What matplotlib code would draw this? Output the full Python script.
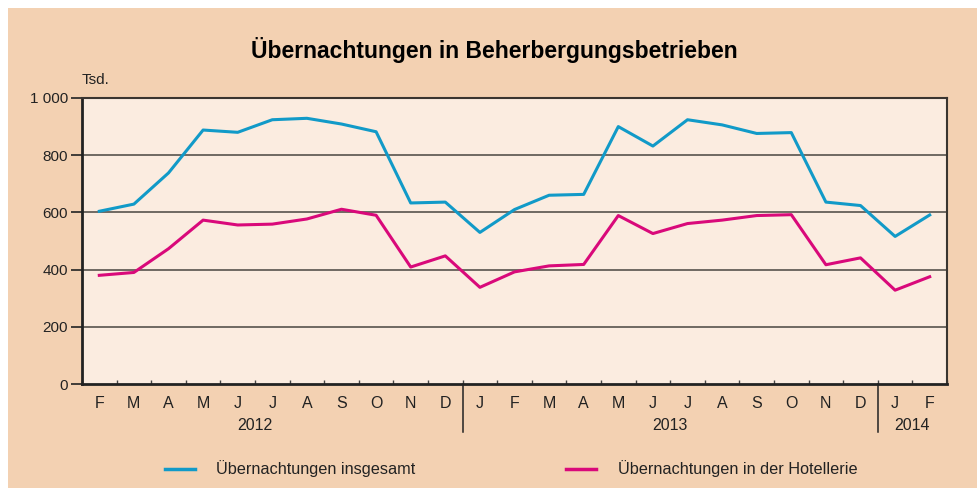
import matplotlib
matplotlib.use("Agg")
import matplotlib.pyplot as plt
from matplotlib.patches import Rectangle
from matplotlib.lines import Line2D

months = ["F", "M", "A", "M", "J", "J", "A", "S", "O", "N", "D",
          "J", "F", "M", "A", "M", "J", "J", "A", "S", "O", "N", "D",
          "J", "F"]
years = ["2012", "2013", "2014"]
insgesamt = [604, 629, 738, 888, 880, 924, 929, 909, 882, 633, 636,
             530, 610, 660, 663, 900, 832, 924, 906, 876, 879, 636, 624,
             516, 591]
hotellerie = [380, 390, 473, 573, 556, 559, 577, 611, 590, 409, 448,
              338, 392, 413, 418, 589, 526, 561, 573, 589, 592, 417, 441,
              328, 375]
yticks = [0, 200, 400, 600, 800, 1000]
ytick_labels = ["0", "200", "400", "600", "800", "1 000"]

plt.rcParams['font.family'] = ['Liberation Sans', 'DejaVu Sans']

W, H = 977, 488
fig = plt.figure(figsize=(W / 100, H / 100), dpi=100, facecolor="white")
fig.patches.append(Rectangle((8 / W, 0), 1 - 8 / W, (H - 8) / H,
                             transform=fig.transFigure, facecolor="#f3d1b2",
                             edgecolor="none", zorder=-10))

ax = fig.add_axes([82 / W, (H - 384) / H, (947 - 82) / W, (384 - 98) / H])
ax.set_facecolor("#fbece0")

x = [i + 0.5 for i in range(len(months))]
ax.plot(x, insgesamt, color="#119ac8", lw=2.2, zorder=3)
ax.plot(x, hotellerie, color="#d9097a", lw=2.2, zorder=3)

ax.set_xlim(0, len(months))
ax.set_ylim(0, 1000)
ax.set_yticks(yticks)
ax.set_yticklabels(ytick_labels, fontsize=11, color="#222222")
ax.tick_params(axis="y", length=8, width=1.2, color="#222222", pad=2)
for v in yticks[1:-1]:
    ax.axhline(v, color="#6f6962", lw=1.4, zorder=1)

ax.set_xticks(x)
ax.set_xticklabels(months, fontsize=11.5, color="#222222")
ax.tick_params(axis="x", length=0, pad=9)
ax.set_xticks(range(0, len(months) + 1), minor=True)
ax.tick_params(axis="x", which="minor", direction="in", length=3,
               width=1, color="#444444")

for side in ["left", "bottom"]:
    ax.spines[side].set_linewidth(2)
    ax.spines[side].set_color("#222222")
for side in ["top", "right"]:
    ax.spines[side].set_linewidth(1.5)
    ax.spines[side].set_color("#3a3530")

# year separators and labels
trans = ax.get_xaxis_transform()
sep_len = (432 - 384) / (384 - 98)
for xs in [11, 23]:
    ax.add_line(Line2D([xs, xs], [0, -sep_len], transform=trans,
                       color="#222222", lw=1.1, clip_on=False))
year_centers = [5.0, 17.0, 24.0]
for yc, yl in zip(year_centers, years):
    ax.text(yc, -(425 - 384) / (384 - 98), yl, transform=trans,
            ha="center", va="center", fontsize=11.5, color="#222222")

ax.text(0, (98 - 80) / (384 - 98) + 1, "Tsd.", transform=ax.transAxes,
        ha="left", va="center", fontsize=11, color="#222222")

fig.text(494 / W, 1 - 50 / H, "Übernachtungen in Beherbergungsbetrieben",
         ha="center", va="center", fontsize=16.5, fontweight="bold",
         color="black")

# legend
ly = 1 - 469 / H
fig.add_artist(Line2D([165 / W, 195 / W], [ly, ly], color="#119ac8", lw=2.5))
fig.text(216 / W, ly, "Übernachtungen insgesamt", ha="left", va="center",
         fontsize=11.7, color="#222222")
fig.add_artist(Line2D([566 / W, 596 / W], [ly, ly], color="#d9097a", lw=2.5))
fig.text(618 / W, ly, "Übernachtungen in der Hotellerie", ha="left",
         va="center", fontsize=11.7, color="#222222")

fig.savefig("out.png", dpi=100, facecolor=fig.get_facecolor())
